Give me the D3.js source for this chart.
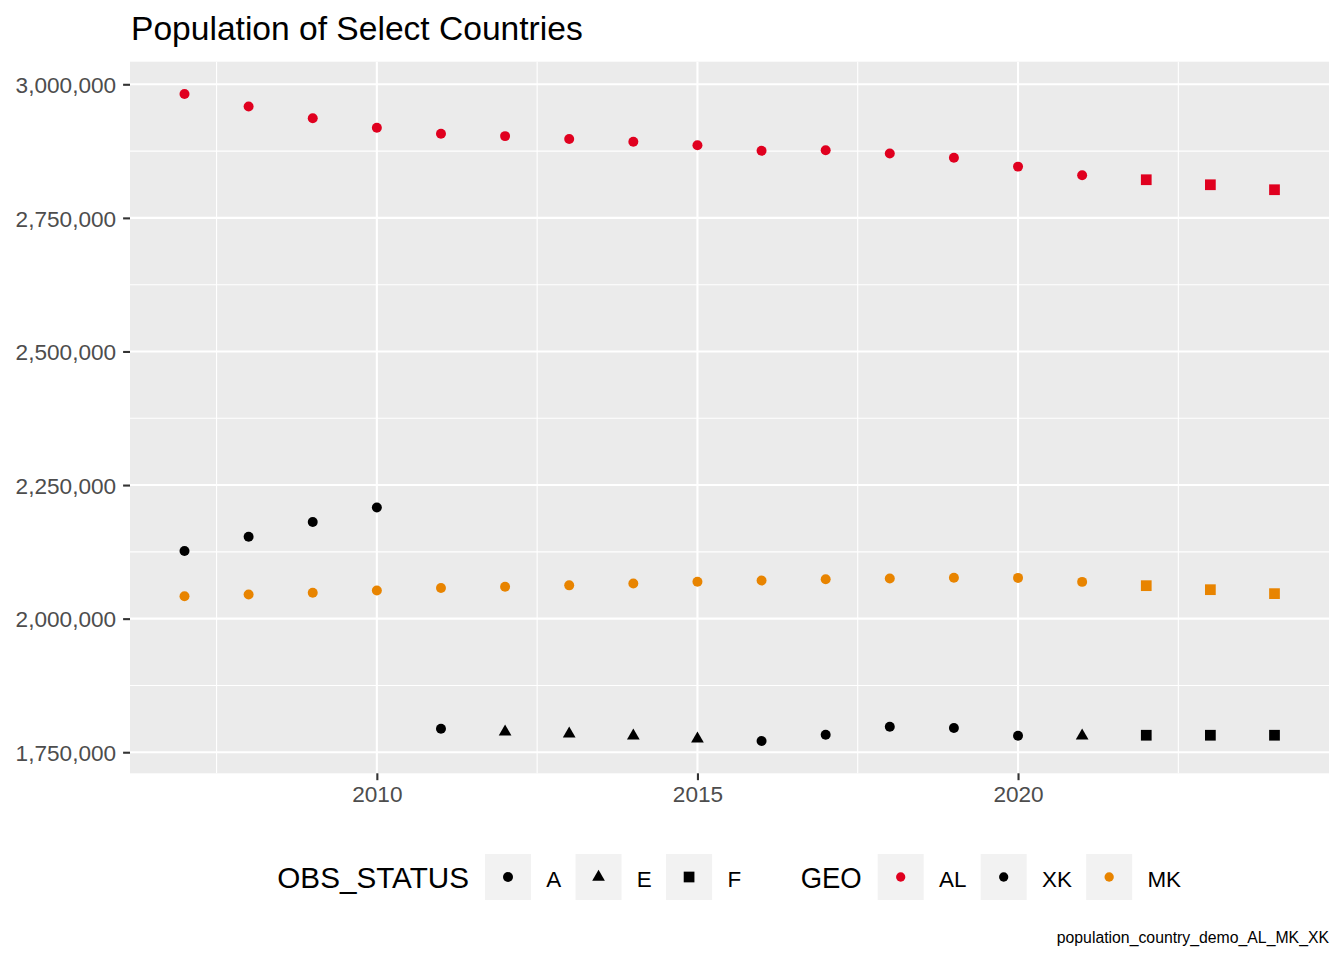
<!DOCTYPE html>
<html>
<head>
<meta charset="utf-8">
<script src="https://cdn.jsdelivr.net/npm/d3@7"></script>
<style>
  html, body { margin: 0; padding: 0; background: #ffffff; }
  svg { display: block; font-family: "Liberation Sans", Arial, sans-serif; }
</style>
</head>
<body>
<svg id="chart" width="1344" height="960"></svg>
<script>
// ---- data ----
const years = [2007, 2008, 2009, 2010, 2011, 2012, 2013, 2014, 2015, 2016, 2017, 2018, 2019, 2020, 2021, 2022, 2023, 2024];
const popAL = [2981755, 2958266, 2936354, 2918674, 2907361, 2903008, 2897770, 2892394, 2885796, 2875592, 2876591, 2870324, 2862427, 2845955, 2829741, 2821400, 2812000, 2802700];
const popXK = [2126708, 2153139, 2180686, 2208107, 1794000, 1788300, 1784200, 1780500, 1774900, 1771100, 1782900, 1797800, 1795400, 1781000, 1780500, 1781800, 1781800, 1781800];
const popMK = [2041941, 2045177, 2048619, 2052722, 2057284, 2059794, 2062294, 2065769, 2069172, 2071278, 2073702, 2075301, 2076694, 2076255, 2068808, 2061700, 2054200, 2046800];
const statusAL = ["A","A","A","A","A","A","A","A","A","A","A","A","A","A","A","F","F","F"];
const statusXK = ["A","A","A","A","A","E","E","E","E","A","A","A","A","A","E","F","F","F"];
const statusMK = ["A","A","A","A","A","A","A","A","A","A","A","A","A","A","A","F","F","F"];
const statusLevels = ["A", "E", "F"];
const geoLevels = ["AL", "XK", "MK"];
const geoColors = ["#E0001F", "#000000", "#E88400"];
const xTicks = [2010, 2015, 2020];
const xMinor = [2007.5, 2012.5, 2017.5, 2022.5];
const yTicks = [1750000, 2000000, 2250000, 2500000, 2750000, 3000000];
const yMinor = [1875000, 2125000, 2375000, 2625000, 2875000];
const titleText = "Population of Select Countries";
const captionText = "population_country_demo_AL_MK_XK";
const statusTitle = "OBS_STATUS";
const geoTitle = "GEO";

// ---- build records ----
const series = { AL: popAL, XK: popXK, MK: popMK };
const statuses = { AL: statusAL, XK: statusXK, MK: statusMK };
const records = [];
geoLevels.forEach(g => {
  years.forEach((yr, i) => records.push({ geo: g, year: yr, value: series[g][i], status: statuses[g][i] }));
});

// ---- layout ----
const panel = { left: 130, right: 1329, top: 61.7, bottom: 773.3 };
const svg = d3.select("#chart");

function expand(ext) { const s = ext[1] - ext[0]; return [ext[0] - 0.05 * s, ext[1] + 0.05 * s]; }
const x = d3.scaleLinear().domain(expand(d3.extent(years))).range([panel.left, panel.right]);
const y = d3.scaleLinear().domain(expand(d3.extent(records, d => d.value))).range([panel.bottom, panel.top]);
const color = d3.scaleOrdinal().domain(geoLevels).range(geoColors);
const shapeType = d3.scaleOrdinal().domain(statusLevels).range([d3.symbolCircle, d3.symbolTriangle, d3.symbolSquare]);
const shapeSize = d3.scaleOrdinal().domain(statusLevels).range([78, 70, 115]);
const symbolPath = s => d3.symbol().type(shapeType(s)).size(shapeSize(s))();

// panel background
svg.append("rect")
  .attr("x", panel.left).attr("y", panel.top)
  .attr("width", panel.right - panel.left).attr("height", panel.bottom - panel.top)
  .attr("fill", "#EBEBEB");

// grid
const grid = svg.append("g");
grid.selectAll("line.ymin").data(yMinor).join("line")
  .attr("x1", panel.left).attr("x2", panel.right)
  .attr("y1", d => y(d)).attr("y2", d => y(d))
  .attr("stroke", "#fff").attr("stroke-width", 1.1);
grid.selectAll("line.xmin").data(xMinor).join("line")
  .attr("y1", panel.top).attr("y2", panel.bottom)
  .attr("x1", d => x(d)).attr("x2", d => x(d))
  .attr("stroke", "#fff").attr("stroke-width", 1.1);
grid.selectAll("line.ymaj").data(yTicks).join("line")
  .attr("x1", panel.left).attr("x2", panel.right)
  .attr("y1", d => y(d)).attr("y2", d => y(d))
  .attr("stroke", "#fff").attr("stroke-width", 2.1);
grid.selectAll("line.xmaj").data(xTicks).join("line")
  .attr("y1", panel.top).attr("y2", panel.bottom)
  .attr("x1", d => x(d)).attr("x2", d => x(d))
  .attr("stroke", "#fff").attr("stroke-width", 2.1);

// axes
const fmt = d3.format(",");
const yAxis = d3.axisLeft(y).tickValues(yTicks).tickFormat(fmt).tickSize(6.9).tickPadding(7);
const xAxis = d3.axisBottom(x).tickValues(xTicks).tickFormat(d3.format("d")).tickSize(6.9).tickPadding(6);
const gy = svg.append("g").attr("transform", `translate(${panel.left},0)`).call(yAxis);
const gx = svg.append("g").attr("transform", `translate(0,${panel.bottom})`).call(xAxis);
[gx, gy].forEach(g => {
  g.select(".domain").remove();
  g.selectAll(".tick line").attr("stroke", "#333333").attr("stroke-width", 2.1);
  g.selectAll(".tick text").attr("fill", "#4D4D4D").style("font-size", "22.6px")
    .style("font-family", "'Liberation Sans', Arial, sans-serif");
});
gy.selectAll(".tick text").attr("dy", "0.36em");
gx.selectAll(".tick text").attr("dy", "0.71em");

// points
svg.append("g").selectAll("path").data(records).join("path")
  .attr("d", d => symbolPath(d.status))
  .attr("transform", d => `translate(${x(d.year)},${y(d.value)})`)
  .attr("fill", d => color(d.geo));

// title
svg.append("text").attr("x", 131).attr("y", 40)
  .style("font-size", "33.6px").attr("fill", "#000").text(titleText);

// caption
svg.append("text").attr("x", 1329).attr("y", 943).attr("text-anchor", "end")
  .style("font-size", "15.8px").attr("fill", "#000").text(captionText);

// legends
const keyY = 854, keySize = 46, keyCY = keyY + keySize / 2;
function drawLegend(startX, keyStart, title, items) {
  const g = svg.append("g");
  g.append("text").attr("x", startX).attr("y", 888.3)
    .style("font-size", "28.6px").attr("fill", "#000")
    .attr("textLength", keyStart - 16 - startX).attr("lengthAdjust", "spacingAndGlyphs")
    .text(title);
  let cx = keyStart;
  items.forEach(it => {
    g.append("rect").attr("x", cx).attr("y", keyY).attr("width", keySize).attr("height", keySize)
      .attr("fill", "#F2F2F2");
    g.append("path").attr("d", it.path)
      .attr("transform", `translate(${cx + keySize / 2},${keyCY})`).attr("fill", it.fill);
    const lab = g.append("text").attr("x", cx + keySize + 15.3).attr("y", 886.7)
      .style("font-size", "22.4px").attr("fill", "#000").text(it.label);
    cx += keySize + 15.3 + lab.node().getComputedTextLength() + 14.3;
  });
}
drawLegend(277.3, 485, statusTitle, statusLevels.map(s => ({ label: s, path: symbolPath(s), fill: "#000" })));
drawLegend(800.7, 877.7, geoTitle, geoLevels.map(g => ({ label: g, path: d3.symbol().type(d3.symbolCircle).size(68)(), fill: color(g) })));
</script>
</body>
</html>
